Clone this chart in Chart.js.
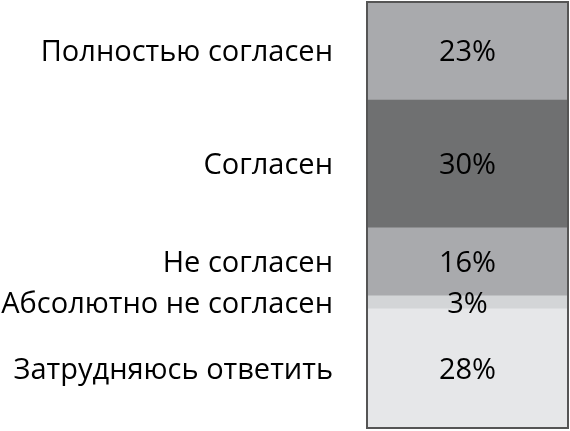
<!DOCTYPE html>
<html>
<head>
<meta charset="utf-8">
<script src="https://cdn.jsdelivr.net/npm/chart.js@4"></script>
<style>
html,body{margin:0;padding:0;background:#fff;}
#wrap{width:570px;height:431px;position:relative;}
</style>
</head>
<body>
<div id="wrap"><canvas id="c"></canvas></div>
<script>
// Bottom-to-top order of the stack
const categories = ["Затрудняюсь ответить", "Абсолютно не согласен", "Не согласен", "Согласен", "Полностью согласен"];
const values = [28, 3, 16, 30, 23];
const colors = ["#e6e7e9", "#d3d5d7", "#a9aaad", "#6f7071", "#a9aaad"];

const FONT = '"Open Sans", sans-serif';

// tick positions at segment centers
const centers = [];
let acc = 0;
values.forEach(v => { centers.push(acc + v / 2); acc += v; });

const labelPlugin = {
  id: 'segLabels',
  afterDatasetsDraw(chart) {
    const ctx = chart.ctx;
    ctx.save();
    ctx.font = '29px ' + FONT;
    ctx.fillStyle = '#000';
    ctx.textAlign = 'center';
    ctx.textBaseline = 'middle';
    chart.data.datasets.forEach((ds, i) => {
      const el = chart.getDatasetMeta(i).data[0];
      const y = (el.y + el.base) / 2 + 2;
      ctx.fillText(ds.data[0] + '%', el.x, y);
    });
    const a = chart.chartArea;
    ctx.strokeStyle = '#555';
    ctx.lineWidth = 2;
    ctx.strokeRect(a.left, a.top, a.right - a.left, a.bottom - a.top);
    ctx.restore();
  }
};

new Chart(document.getElementById('c'), {
  type: 'bar',
  data: {
    labels: [''],
    datasets: categories.map((c, i) => ({
      label: c,
      data: [values[i]],
      backgroundColor: colors[i],
      borderWidth: 0,
      barPercentage: 1,
      categoryPercentage: 1
    }))
  },
  options: {
    responsive: true,
    maintainAspectRatio: false,
    animation: false,
    layout: { padding: { top: 2, bottom: 3, right: 2, left: 0 } },
    plugins: { legend: { display: false }, tooltip: { enabled: false } },
    scales: {
      x: { stacked: true, display: false },
      y: {
        stacked: true,
        min: 0, max: 100,
        grid: { display: false, drawTicks: false },
        border: { display: false },
        afterFit(scale) { scale.width = 367; scale.paddingTop = 0; scale.paddingBottom = 0; },
        afterBuildTicks(scale) { scale.ticks = centers.map(v => ({ value: v })); },
        ticks: {
          padding: 34,
          labelOffset: 2,
          color: '#000',
          font: { family: FONT, size: 29 },
          callback: (v) => { const i = centers.indexOf(v); return i >= 0 ? categories[i] : ''; }
        }
      }
    }
  },
  plugins: [labelPlugin]
});
</script>
</body>
</html>
